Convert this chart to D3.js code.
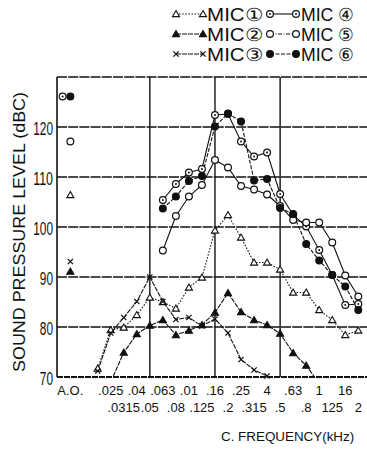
<!DOCTYPE html>
<html>
<head>
<meta charset="utf-8">
<script src="https://cdn.jsdelivr.net/npm/d3@7"></script>
<style>
  body { margin: 0; background: #fff; }
  svg { display: block; }
  text { font-family: "Liberation Sans", Arial, sans-serif; fill: #111; }
</style>
</head>
<body>
<div id="chart"></div>
<script>
// one-third octave bands, kHz (first band has no printed label)
const bands = [0.02, 0.025, 0.0315, 0.04, 0.05, 0.063, 0.08, 0.1, 0.125, 0.16, 0.2,
               0.25, 0.315, 0.4, 0.5, 0.63, 0.8, 1, 1.25, 1.6, 2];
const bandLabels = ["", ".025", ".0315", ".04", ".05", ".063", ".08", ".01", ".125", ".16", ".2",
                    ".25", ".315", "4", ".5", ".63", ".8", "1", "125", "16", "2"];
const yTicks = [70, 80, 90, 100, 110, 120];
const gridFreqs = [0.05, 0.16, 0.5];

const micNames = ["MIC①", "MIC②", "MIC③", "MIC ④", "MIC ⑤", "MIC ⑥"];
// overall (A.O.) levels
const aoValues = [106.4, 91.1, 93.1, 126.1, 117.1, 126.1];

const mic1 = [71.7, 79.4, 79.9, 82.4, 85.9, 85.0, 83.7, 87.9, 89.9, 99.3, 102.4,
              97.9, 92.9, 92.9, 91.5, 86.9, 86.9, 83.4, 81.4, 78.4, 79.3];
const mic2 = [null, 69.0, 74.9, 78.6, 80.3, 81.4, 78.4, 79.3, 80.4, 82.9, 86.8,
              83.0, 81.4, 80.4, 78.7, 74.8, 72.3, 68.7, null, null, null];
const mic3 = [71.2, 78.8, 81.9, 85.1, 90.0, 85.1, 81.5, 81.9, 80.2, 81.6, 78.8,
              73.5, 71.4, 70.2, null, null, null, null, null, null, null];
const mic4 = [null, null, null, null, null, 105.4, 108.6, 110.9, 111.6, 122.4, 122.6,
              117.1, 114.1, 114.9, 106.6, 102.4, 100.1, 95.4, 90.4, 84.4, 84.6];
const mic5 = [null, null, null, null, null, 95.3, 102.2, 106.1, 108.4, 113.4, 111.9,
              108.2, 107.5, 106.5, 104.2, 101.4, 100.9, 100.9, 96.9, 90.3, 86.1];
const mic6 = [null, null, null, null, null, 103.7, 106.1, 109.2, 110.2, 120.1, 122.7,
              121.1, 109.3, 109.6, 103.8, 102.6, 96.6, 93.3, 90.4, 88.1, 83.4];

const styles = [
    {marker: "triangle", fill: "#fff", dash: "1.5,1.6", aoShift: 0},
    {marker: "triangle", fill: "#111", dash: "5,1", aoShift: 0},
    {marker: "cross", fill: "none", dash: "5,1", aoShift: 0},
    {marker: "dotcircle", fill: "#fff", dash: null, aoShift: -7.7},
    {marker: "circle", fill: "#fff", dash: null, aoShift: 0},
    {marker: "circle", fill: "#111", dash: "4,1.5", aoShift: 0}
];
const series = [mic1, mic2, mic3, mic4, mic5, mic6].map((values, k) =>
    Object.assign({name: micNames[k], values: values, ao: aoValues[k]}, styles[k]));

const width = 367;
const height = 449;
const plot = {left: 57, right: 367, top: 77, bottom: 377};

const svg = d3.select("#chart")
    .append("svg")
    .attr("width", width)
    .attr("height", height)
    .attr("viewBox", `0, 0, ${width}, ${height}`);

svg.append("defs")
    .append("clipPath").attr("id", "plot-clip")
    .append("rect")
    .attr("x", plot.left).attr("y", plot.top)
    .attr("width", plot.right - plot.left).attr("height", plot.bottom - plot.top);

const xScale = d3.scaleLinear()
    .domain([0, bands.length - 1])
    .range([97.7, 358.3]);
const aoIndex = -2.1;

const yScale = d3.scaleLinear()
    .domain([70, 130])
    .range([plot.bottom, plot.top]);

// grid
svg.selectAll(".hgrid")
    .data(yTicks.slice(1).concat([130]))
    .enter()
    .append("line")
    .attr("x1", plot.left).attr("x2", plot.right)
    .attr("y1", d => yScale(d)).attr("y2", d => yScale(d))
    .attr("stroke", "#111")
    .attr("stroke-width", 1.4)
    .attr("stroke-dasharray", "10,1.2");

svg.selectAll(".vgrid")
    .data(gridFreqs)
    .enter()
    .append("line")
    .attr("x1", d => xScale(bands.indexOf(d))).attr("x2", d => xScale(bands.indexOf(d)))
    .attr("y1", plot.top).attr("y2", plot.bottom)
    .attr("stroke", "#111")
    .attr("stroke-width", 1.4);

svg.append("line")
    .attr("x1", plot.left).attr("x2", plot.left).attr("y1", plot.top).attr("y2", plot.bottom)
    .attr("stroke", "#111").attr("stroke-width", 1.6);

svg.append("line")
    .attr("x1", plot.left).attr("x2", plot.right)
    .attr("y1", plot.bottom).attr("y2", plot.bottom)
    .attr("stroke", "#111").attr("stroke-width", 2)
    .attr("stroke-dasharray", "6,1");

// y tick labels
svg.selectAll(".ylab")
    .data(yTicks)
    .enter()
    .append("text")
    .attr("x", plot.left - 4)
    .attr("y", d => yScale(d) + 8)
    .attr("text-anchor", "end")
    .attr("font-size", 18)
    .attr("textLength", d => String(d).length * 6.6)
    .attr("lengthAdjust", "spacingAndGlyphs")
    .text(d => d);

svg.append("text")
    .attr("transform", "translate(25, 232) rotate(-90)")
    .attr("text-anchor", "middle")
    .attr("font-size", 16)
    .attr("textLength", 280)
    .attr("lengthAdjust", "spacingAndGlyphs")
    .text("SOUND PRESSURE LEVEL (dBC)");

// x tick labels, staggered in two rows
const xLabels = [{label: "A.O.", pos: aoIndex, row: 0}].concat(
    bandLabels.map((l, i) => ({label: l, pos: i, row: i % 2 === 1 ? 0 : 1}))
        .filter(d => d.label !== ""));

svg.selectAll(".xlab")
    .data(xLabels)
    .enter()
    .append("text")
    .attr("x", d => xScale(d.pos))
    .attr("y", d => plot.bottom + (d.row === 0 ? 18 : 35))
    .attr("text-anchor", "middle")
    .attr("font-size", 13)
    .text(d => d.label);

svg.append("text")
    .attr("x", 221)
    .attr("y", 441)
    .attr("font-size", 13.4)
    .text("C. FREQUENCY(kHz)");

// markers
const drawMarker = (g, s, x, y) => {
    if (s.marker === "cross") {
        g.append("path")
            .attr("d", `M${x - 2.6},${y - 2.6}L${x + 2.6},${y + 2.6}M${x - 2.6},${y + 2.6}L${x + 2.6},${y - 2.6}`)
            .attr("stroke", "#111").attr("stroke-width", 1.3);
    } else if (s.marker === "triangle") {
        g.append("path")
            .attr("d", d3.symbol(d3.symbolTriangle, 22)())
            .attr("transform", `translate(${x}, ${y + 0.6})`)
            .attr("fill", s.fill).attr("stroke", "#111").attr("stroke-width", 1.1);
    } else {
        g.append("circle")
            .attr("cx", x).attr("cy", y).attr("r", 3.4)
            .attr("fill", s.fill).attr("stroke", "#111").attr("stroke-width", 1.2);
        if (s.marker === "dotcircle") {
            g.append("circle").attr("cx", x).attr("cy", y).attr("r", 1).attr("fill", "#111");
        }
    }
};

const line = d3.line()
    .defined(d => d != null)
    .x((d, i) => xScale(i))
    .y(d => yScale(d));

const lines = svg.append("g").attr("clip-path", "url(#plot-clip)");
series.forEach(s => {
    lines.append("path")
        .attr("d", line(s.values))
        .attr("fill", "none")
        .attr("stroke", "#111")
        .attr("stroke-width", 1.1)
        .attr("stroke-dasharray", s.dash);
});

const marks = svg.append("g");
series.forEach(s => {
    s.values.forEach((v, i) => {
        if (v != null && v >= 70) drawMarker(marks, s, xScale(i), yScale(v));
    });
    drawMarker(marks, s, xScale(aoIndex) + s.aoShift, yScale(s.ao));
});

// legend
const legend = svg.append("g");
series.forEach((s, k) => {
    const col = k < 3 ? 0 : 1;
    const cy = 14 + (k % 3) * 20;
    const x0 = col === 0 ? 176 : 270;
    const x1 = col === 0 ? 203 : 296;
    legend.append("line")
        .attr("x1", x0).attr("x2", x1).attr("y1", cy).attr("y2", cy)
        .attr("stroke", "#111").attr("stroke-width", 1.1)
        .attr("stroke-dasharray", s.dash || (k === 4 ? "4,1.5,1,1.5" : null));
    drawMarker(legend, s, x0, cy);
    drawMarker(legend, s, x1, cy);
    legend.append("text")
        .attr("x", col === 0 ? 207 : 301)
        .attr("y", cy + 6.5)
        .attr("font-size", 18)
        .attr("textLength", col === 0 ? 56 : 53)
        .attr("lengthAdjust", "spacingAndGlyphs")
        .text(s.name);
});
</script>
</body>
</html>
